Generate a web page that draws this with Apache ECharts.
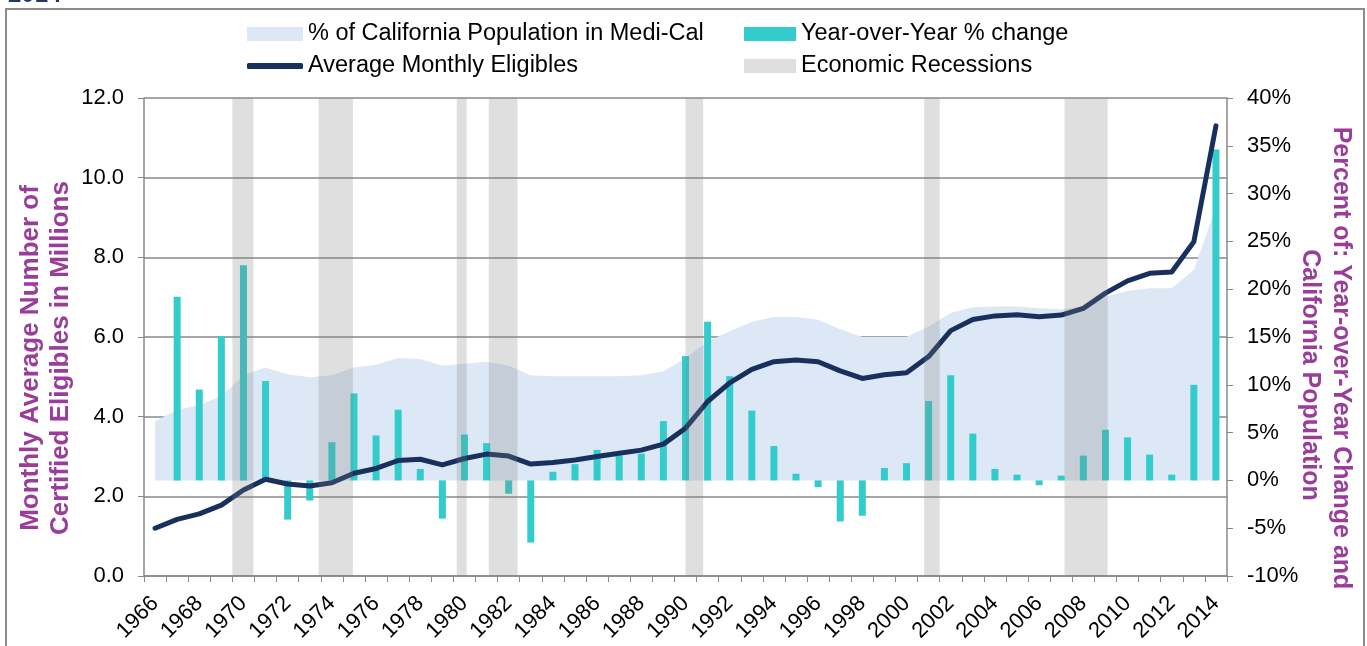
<!DOCTYPE html>
<html>
<head>
<meta charset="utf-8">
<script src="https://cdn.jsdelivr.net/npm/echarts@6/dist/echarts.min.js"></script>
<style>html,body{margin:0;padding:0;background:#fff}#c{width:1367px;height:646px}</style>
</head>
<body>
<div id="c"></div>
<script>
const years = [];
for (let y = 1966; y <= 2014; y++) years.push(String(y));

const eligibles = [1.20,1.42,1.56,1.78,2.16,2.43,2.31,2.26,2.34,2.58,2.70,2.90,2.93,2.79,2.95,3.06,3.01,2.81,2.85,2.91,3.00,3.08,3.16,3.31,3.71,4.38,4.85,5.19,5.38,5.42,5.38,5.15,4.96,5.05,5.10,5.51,6.16,6.44,6.53,6.56,6.51,6.55,6.72,7.10,7.41,7.60,7.63,8.39,11.30];

const yoyChange = [null,19.2,9.5,15.1,22.5,10.4,-4.1,-2.1,4.0,9.1,4.7,7.4,1.2,-4.0,4.8,3.9,-1.4,-6.5,0.9,1.7,3.2,2.6,2.8,6.2,13.0,16.6,10.9,7.3,3.6,0.7,-0.7,-4.3,-3.7,1.3,1.8,8.3,11.0,4.9,1.2,0.6,-0.5,0.5,2.6,5.3,4.5,2.7,0.6,10.0,34.6];

const pctPopulation = [6.2,7.4,7.9,8.8,11.0,11.8,11.1,10.8,11.0,11.8,12.1,12.8,12.7,12.0,12.2,12.4,12.0,11.0,10.9,10.9,10.9,10.9,11.0,11.4,12.8,14.5,15.6,16.6,17.1,17.1,16.8,15.8,15.0,15.0,15.0,16.1,17.5,18.1,18.2,18.2,18.0,17.9,18.2,19.2,19.8,20.1,20.1,22.0,28.6];

// recession periods, in chart year units
const recessions = [[1969.5,1970.45],[1973.4,1974.95],[1979.65,1980.1],[1981.1,1982.4],[1990.0,1990.8],[2000.8,2001.5],[2007.15,2009.1]];

const leftTicks = [0,2,4,6,8,10,12];
const rightTicks = [-10,-5,0,5,10,15,20,25,30,35,40];

const FONT = 'Liberation Sans, Arial, sans-serif';
const PURPLE = '#9a3c9a';
const LEG_TEXT = {fontSize:23.5,color:'#000',fontFamily:FONT};

const chart = echarts.init(document.getElementById('c'), null, {renderer:'canvas'});
chart.setOption({
  animation:false,
  backgroundColor:'#fff',
  textStyle:{fontFamily:FONT},
  grid:{left:144,right:140,top:98,bottom:70},
  graphic:[
    {type:'rect',shape:{x:6,y:9,width:1358,height:660},style:{fill:'none',stroke:'#8c8c8c',lineWidth:2},silent:true},
    {type:'text',x:8,y:-17,style:{text:'2014',font:'bold 24px '+FONT,fill:'#1f3864'}},
    {type:'text',x:31,y:358,rotation:Math.PI/2,style:{text:'Monthly Average Number of',font:'bold 26px '+FONT,fill:PURPLE,align:'center',verticalAlign:'middle'}},
    {type:'text',x:61,y:358,rotation:Math.PI/2,style:{text:'Certified Eligibles in Millions',font:'bold 26px '+FONT,fill:PURPLE,align:'center',verticalAlign:'middle'}},
    {type:'text',x:1341,y:358,rotation:-Math.PI/2,style:{text:'Percent of: Year-over-Year Change and',font:'bold 25px '+FONT,fill:PURPLE,align:'center',verticalAlign:'middle'}},
    {type:'text',x:1310,y:375,rotation:-Math.PI/2,style:{text:'California Population',font:'bold 25px '+FONT,fill:PURPLE,align:'center',verticalAlign:'middle'}}
  ],
  legend:[
    {left:242,top:17,itemWidth:56,itemHeight:14,itemGap:6,textStyle:LEG_TEXT,
     data:[{name:'% of California Population in Medi-Cal',icon:'rect',itemStyle:{color:'#dce8f5'}}]},
    {left:242,top:49,itemWidth:56,itemHeight:6,itemGap:6,textStyle:LEG_TEXT,
     data:[{name:'Average Monthly Eligibles',icon:'roundRect',itemStyle:{color:'#17305e'}}]},
    {left:739,top:17,orient:'vertical',itemGap:8,itemWidth:52,itemHeight:14,textStyle:LEG_TEXT,
     data:[{name:'Year-over-Year % change',icon:'rect'},
           {name:'Economic Recessions',icon:'rect',itemStyle:{color:'#dedede'}}]}
  ],
  xAxis:[
    {type:'category',data:years,boundaryGap:true,
     axisLine:{lineStyle:{color:'#888',width:1.5}},
     axisTick:{show:true,interval:0,length:6,lineStyle:{color:'#888'}},
     axisLabel:{interval:1,rotate:45,fontSize:22,color:'#000',margin:24,fontFamily:FONT},
     splitLine:{show:false}},
    {type:'value',min:1965.5,max:2014.5,show:false}
  ],
  yAxis:[
    {type:'value',min:0,max:12,interval:2,position:'left',
     axisLine:{show:true,lineStyle:{color:'#888',width:1.5}},
     axisTick:{show:true,length:6,inside:false,lineStyle:{color:'#888'}},
     axisLabel:{fontSize:22,color:'#000',margin:20,formatter:v=>v.toFixed(1),fontFamily:FONT},
     splitLine:{show:true,lineStyle:{color:'#888',width:1.5}}},
    {type:'value',min:-10,max:40,interval:5,position:'right',
     axisLine:{show:true,lineStyle:{color:'#888',width:1.5}},
     axisTick:{show:true,length:6,lineStyle:{color:'#888'}},
     axisLabel:{fontSize:22,color:'#000',margin:20,formatter:v=>v+'%',fontFamily:FONT},
     splitLine:{show:false}}
  ],
  series:[
    {name:'% of California Population in Medi-Cal',type:'line',xAxisIndex:0,yAxisIndex:1,
     data:pctPopulation,symbol:'none',lineStyle:{width:0,color:'#dce8f5'},itemStyle:{color:'#dce8f5'},
     areaStyle:{color:'#dce8f5',opacity:1},z:1},
    {name:'Year-over-Year % change',type:'bar',xAxisIndex:0,yAxisIndex:1,
     data:yoyChange,barWidth:7,itemStyle:{color:'#33cccc'},z:2},
    {name:'Average Monthly Eligibles',type:'line',xAxisIndex:0,yAxisIndex:0,
     data:eligibles,symbol:'none',smooth:false,lineStyle:{width:5,color:'#17305e',cap:'round',join:'round'},
     itemStyle:{color:'#17305e'},z:3},
    {name:'Economic Recessions',type:'custom',xAxisIndex:1,yAxisIndex:0,
     itemStyle:{color:'#dedede'},z:5,
     data:recessions,
     encode:{x:[0,1]},
     renderItem:function(params,api){
       const p0 = api.coord([api.value(0),12]);
       const p1 = api.coord([api.value(1),0]);
       return {type:'rect',shape:{x:p0[0],y:p0[1],width:p1[0]-p0[0],height:p1[1]-p0[1]},
               style:{fill:'rgba(128,128,128,0.25)'}};
     }}
  ]
});
</script>
</body>
</html>
